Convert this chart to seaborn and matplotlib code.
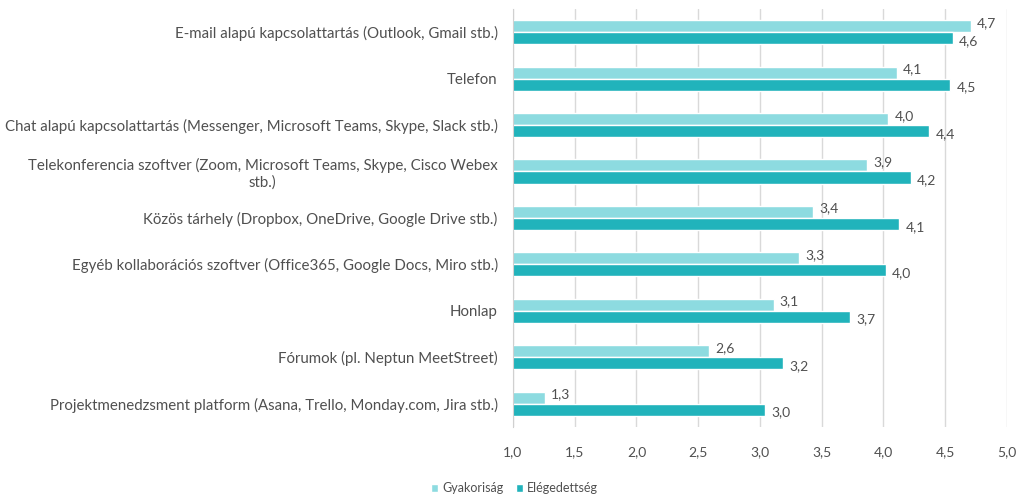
import pandas as pd
import seaborn as sns
import matplotlib.pyplot as plt
from matplotlib.ticker import FuncFormatter, MultipleLocator

# Data
kategoriak = [
    "E-mail alapú kapcsolattartás (Outlook, Gmail stb.)",
    "Telefon",
    "Chat alapú kapcsolattartás (Messenger, Microsoft Teams, Skype, Slack stb.)",
    "Telekonferencia szoftver (Zoom, Microsoft Teams, Skype, Cisco Webex\nstb.)",
    "Közös tárhely (Dropbox, OneDrive, Google Drive stb.)",
    "Egyéb kollaborációs szoftver (Office365, Google Docs, Miro stb.)",
    "Honlap",
    "Fórumok (pl. Neptun MeetStreet)",
    "Projektmenedzsment platform (Asana, Trello, Monday.com, Jira stb.)",
]
gyakorisag = [4.71, 4.11, 4.04, 3.87, 3.43, 3.32, 3.11, 2.59, 1.26]
elegedettseg = [4.56, 4.54, 4.37, 4.22, 4.13, 4.02, 3.73, 3.19, 3.04]
sorozatok = ["Gyakoriság", "Elégedettség"]

df = pd.DataFrame({
    "Kategória": kategoriak * 2,
    "Érték": gyakorisag + elegedettseg,
    "Sorozat": [sorozatok[0]] * len(kategoriak) + [sorozatok[1]] * len(kategoriak),
})

sns.set_style("white")
plt.rcParams['font.family'] = ['Lato', 'DejaVu Sans']
szurke = "#505050"

fig = plt.figure(figsize=(10.17, 4.97), dpi=100)
ax = fig.add_axes([0.5044, 0.141, 0.4857, 0.841])

sns.barplot(data=df, y="Kategória", x="Érték", hue="Sorozat", hue_order=sorozatok,
            palette=["#8ddbe0", "#21b3bb"], orient="h", width=0.52, saturation=1,
            ax=ax, legend=True)

ax.set_xlim(1, 5)
ax.xaxis.set_major_locator(MultipleLocator(0.5))
ax.xaxis.set_major_formatter(FuncFormatter(lambda v, p: f"{v:.1f}".replace(".", ",")))
ax.grid(axis="x", color="#d9d9d9", linewidth=1)
ax.set_axisbelow(True)
for s in ["top", "right", "bottom"]:
    ax.spines[s].set_visible(False)
ax.spines["left"].set_color("#d0d0d0")
ax.set_xlabel("")
ax.set_ylabel("")
ax.tick_params(axis="both", length=0, colors=szurke)
ax.tick_params(axis="y", pad=11, labelsize=10.8)
ax.tick_params(axis="x", pad=14, labelsize=10)
for t in ax.get_yticklabels():
    t.set_multialignment("center")

# value labels
for i, cont in enumerate(ax.containers):
    dy = -0.07 if i == 0 else 0.06
    for p in cont.patches:
        v = p.get_width()
        ax.text(v + 0.05, p.get_y() + p.get_height() / 2 + dy,
                f"{v:.1f}".replace(".", ","), va="center", ha="left",
                fontsize=10, color=szurke)

ax.legend(loc="center", bbox_to_anchor=(0.003, -0.146), ncol=2, frameon=False,
          fontsize=9, labelcolor=szurke, handlelength=0.6, handleheight=0.6,
          handletextpad=0.3, columnspacing=1.0, borderpad=0.2)

fig.savefig("out.png", dpi=100)
